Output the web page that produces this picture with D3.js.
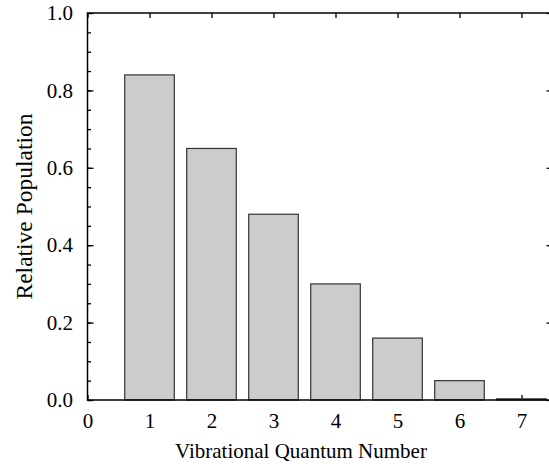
<!DOCTYPE html>
<html>
<head>
<meta charset="utf-8">
<script src="https://cdn.jsdelivr.net/npm/d3@7"></script>
<style>
  html, body { margin: 0; padding: 0; background: #fff; }
  svg { display: block; }
</style>
</head>
<body>
<svg id="chart" width="549" height="468"></svg>
<script>
// Vibrational level populations
const levels = [1, 2, 3, 4, 5, 6, 7];
const population = [0.84, 0.65, 0.48, 0.30, 0.16, 0.05, 0.003];
const xTicks = [0, 1, 2, 3, 4, 5, 6, 7];
const yTicks = [0.0, 0.2, 0.4, 0.6, 0.8, 1.0];
const yMinorTicks = d3.range(0, 21).map(i => i * 0.05);

const plotLeft = 87.5, plotTop = 13, plotBottom = 400, plotRight = 552.5;
const fontSize = 21;
const serif = "'Liberation Serif', 'Times New Roman', Times, 'DejaVu Serif', serif";

const svg = d3.select("#chart");

const x = d3.scaleLinear().domain([0, 7.5]).range([plotLeft, plotRight]);
const y = d3.scaleLinear().domain([0, 1]).range([plotBottom, plotTop]);

function styleAxis(g) {
  g.attr("font-family", null).attr("font-size", null);
  g.selectAll("path.domain").remove();
  g.selectAll(".tick line").attr("stroke", "#000").attr("stroke-width", 1.3);
  g.selectAll(".tick text")
    .style("font-family", serif)
    .style("font-size", fontSize + "px")
    .attr("fill", "#000");
}

// bottom axis ticks point upward and sit underneath the bars
svg.append("g")
  .attr("transform", `translate(0,${plotBottom})`)
  .call(d3.axisBottom(x).tickValues(xTicks).tickFormat(d3.format("d"))
    .tickSize(-5).tickPadding(13))
  .call(styleAxis);

// bars
const barW = 0.8;
svg.append("g").selectAll("rect")
  .data(levels.map((v, i) => ({ v, p: population[i] })))
  .join("rect")
  .attr("x", d => x(d.v - barW / 2))
  .attr("width", d => x(d.v + barW / 2) - x(d.v - barW / 2))
  .attr("y", d => y(d.p))
  .attr("height", d => y(0) - y(d.p))
  .attr("fill", "#cccccc")
  .attr("stroke", "#333")
  .attr("stroke-width", 1.2);

// left axis: labelled major ticks plus minor ticks, all pointing inward
svg.append("g")
  .attr("transform", `translate(${plotLeft},0)`)
  .call(d3.axisLeft(y).tickValues(yMinorTicks).tickFormat("").tickSize(-3.5))
  .call(styleAxis);
svg.append("g")
  .attr("transform", `translate(${plotLeft},0)`)
  .call(d3.axisLeft(y).tickValues(yTicks).tickFormat(d3.format(".1f"))
    .tickSize(-6).tickPadding(14.5))
  .call(styleAxis);

// right axis
svg.append("g")
  .attr("transform", `translate(${plotRight},0)`)
  .call(d3.axisRight(y).tickValues(yMinorTicks).tickFormat("").tickSize(-3.5))
  .call(styleAxis);
svg.append("g")
  .attr("transform", `translate(${plotRight},0)`)
  .call(d3.axisRight(y).tickValues(yTicks).tickFormat("").tickSize(-6))
  .call(styleAxis);

// top axis
svg.append("g")
  .attr("transform", `translate(0,${plotTop})`)
  .call(d3.axisTop(x).tickValues(xTicks).tickFormat("").tickSize(-5))
  .call(styleAxis);

// frame
svg.append("rect")
  .attr("x", plotLeft).attr("y", plotTop)
  .attr("width", plotRight - plotLeft).attr("height", plotBottom - plotTop)
  .attr("fill", "none").attr("stroke", "#000").attr("stroke-width", 1.5);

// axis titles
svg.append("text")
  .attr("x", 301).attr("y", 457.5)
  .attr("text-anchor", "middle")
  .style("font-family", serif)
  .style("font-size", fontSize + "px")
  .text("Vibrational Quantum Number");

svg.append("text")
  .attr("transform", `translate(31.5,${(plotTop + plotBottom) / 2}) rotate(-90)`)
  .attr("text-anchor", "middle")
  .style("font-family", serif)
  .style("font-size", "23.5px")
  .text("Relative Population");
</script>
</body>
</html>
